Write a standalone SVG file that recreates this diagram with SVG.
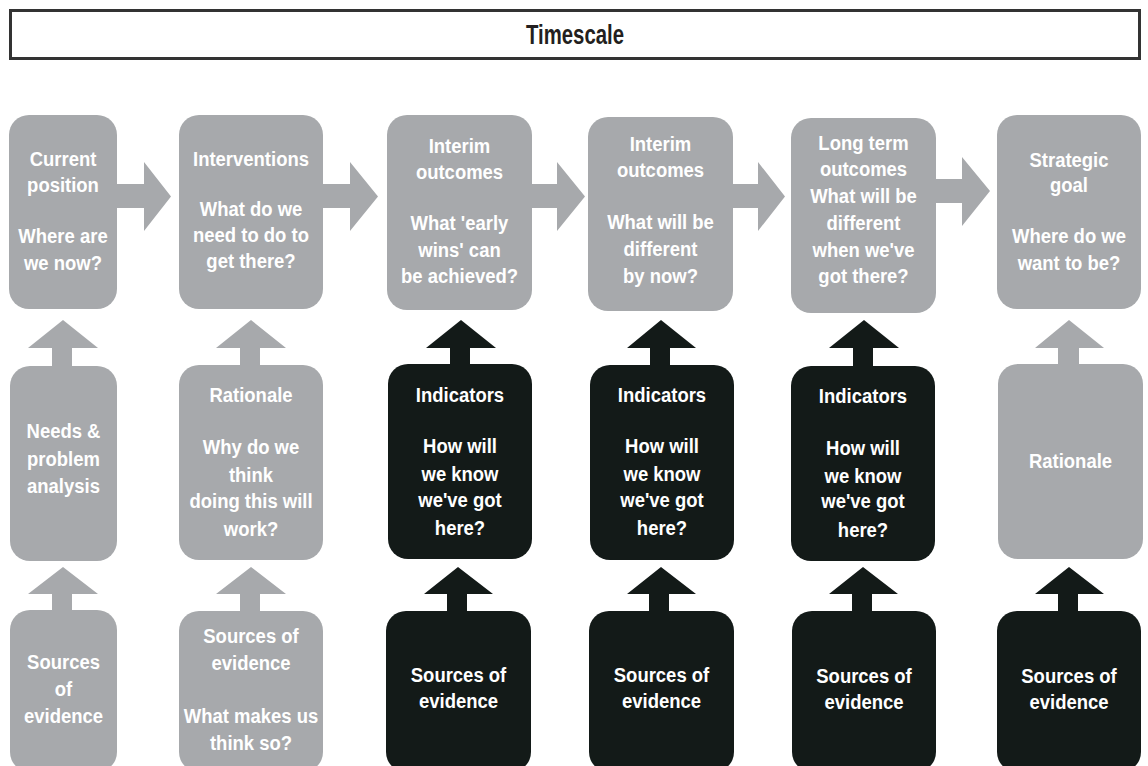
<svg xmlns="http://www.w3.org/2000/svg" width="1148" height="766" viewBox="0 0 1148 766">
<style>
.g{fill:#a7a9ac}
.d{fill:#131a18}
.t{font-family:"Liberation Sans",Arial,sans-serif;font-weight:bold;font-size:21px;fill:#ffffff;text-anchor:middle}
.title{font-family:"Liberation Sans",Arial,sans-serif;font-weight:bold;font-size:27px;fill:#231f20;text-anchor:middle}
</style>
<rect width="1148" height="766" fill="#ffffff"/>
<g id="title">
<rect x="10.5" y="10.5" width="1129" height="48" fill="#ffffff" stroke="#333333" stroke-width="3"/>
<text class="title" x="575" y="44" textLength="98" lengthAdjust="spacingAndGlyphs">Timescale</text>
</g>
<g id="connectors">
<polygon class="g" points="115,184 144,184 144,162 171,196.5 144,231 144,208 115,208"/>
<polygon class="g" points="321,184 350,184 350,162 378,196.5 350,231 350,208 321,208"/>
<polygon class="g" points="530,184 557,184 557,162 585,196.5 557,231 557,208 530,208"/>
<polygon class="g" points="731,184 758,184 758,162 785,196.5 758,231 758,208 731,208"/>
<polygon class="g" points="934,179 962,179 962,157 990,191 962,226 962,203 934,203"/>
<polygon class="g" points="52,370 52,348 28,348 63,320 98,348 72,348 72,370"/>
<polygon class="g" points="240,370 240,348 216,348 251,320 286,348 260,348 260,370"/>
<polygon class="d" points="450,370 450,348 426,348 461,320 496,348 470,348 470,370"/>
<polygon class="d" points="650,370 650,348 627,348 661,320 696,348 670,348 670,370"/>
<polygon class="d" points="853,370 853,348 829,348 864,320 899,348 873,348 873,370"/>
<polygon class="g" points="1058,370 1058,348 1035,348 1069,320 1104,348 1079,348 1079,370"/>
<polygon class="g" points="52,615 52,594 28,594 63,567 98,594 72,594 72,615"/>
<polygon class="g" points="240,615 240,594 216,594 251,567 286,594 260,594 260,615"/>
<polygon class="d" points="447,615 447,594 424,594 458,567 493,594 467,594 467,615"/>
<polygon class="d" points="649,615 649,594 627,594 661,567 696,594 669,594 669,615"/>
<polygon class="d" points="852,615 852,594 829,594 863,567 898,594 872,594 872,615"/>
<polygon class="d" points="1058,615 1058,594 1035,594 1069,567 1104,594 1078,594 1078,615"/>
</g>
<g id="current-position">
<rect class="g" x="9" y="115" width="108" height="194" rx="20"/>
<g transform="translate(63 0) scale(0.88 1)">
<text class="t" x="0" y="166">Current</text>
<text class="t" x="0" y="192">position</text>
<text class="t" x="0" y="243">Where are</text>
<text class="t" x="0" y="270">we now?</text>
</g>
</g>
<g id="interventions">
<rect class="g" x="179" y="115" width="144" height="194" rx="20"/>
<g transform="translate(251 0) scale(0.88 1)">
<text class="t" x="0" y="166">Interventions</text>
<text class="t" x="0" y="216">What do we</text>
<text class="t" x="0" y="242">need to do to</text>
<text class="t" x="0" y="268">get there?</text>
</g>
</g>
<g id="interim-outcomes-1">
<rect class="g" x="387" y="115" width="145" height="195" rx="20"/>
<g transform="translate(459.5 0) scale(0.88 1)">
<text class="t" x="0" y="153">Interim</text>
<text class="t" x="0" y="179">outcomes</text>
<text class="t" x="0" y="230">What 'early</text>
<text class="t" x="0" y="257">wins' can</text>
<text class="t" x="0" y="283">be achieved?</text>
</g>
</g>
<g id="interim-outcomes-2">
<rect class="g" x="588" y="117" width="145" height="194" rx="20"/>
<g transform="translate(660.5 0) scale(0.88 1)">
<text class="t" x="0" y="151">Interim</text>
<text class="t" x="0" y="177">outcomes</text>
<text class="t" x="0" y="229">What will be</text>
<text class="t" x="0" y="256">different</text>
<text class="t" x="0" y="283">by now?</text>
</g>
</g>
<g id="long-term-outcomes">
<rect class="g" x="791" y="118" width="145" height="195" rx="20"/>
<g transform="translate(863.5 0) scale(0.88 1)">
<text class="t" x="0" y="150">Long term</text>
<text class="t" x="0" y="176">outcomes</text>
<text class="t" x="0" y="203">What will be</text>
<text class="t" x="0" y="230">different</text>
<text class="t" x="0" y="257">when we've</text>
<text class="t" x="0" y="283">got there?</text>
</g>
</g>
<g id="strategic-goal">
<rect class="g" x="997" y="115" width="144" height="194" rx="20"/>
<g transform="translate(1069 0) scale(0.88 1)">
<text class="t" x="0" y="167">Strategic</text>
<text class="t" x="0" y="192">goal</text>
<text class="t" x="0" y="243">Where do we</text>
<text class="t" x="0" y="270">want to be?</text>
</g>
</g>
<g id="needs">
<rect class="g" x="10" y="366" width="107" height="195" rx="20"/>
<g transform="translate(63.5 0) scale(0.88 1)">
<text class="t" x="0" y="438">Needs &amp;</text>
<text class="t" x="0" y="466">problem</text>
<text class="t" x="0" y="493">analysis</text>
</g>
</g>
<g id="rationale-1">
<rect class="g" x="179" y="365" width="144" height="195" rx="20"/>
<g transform="translate(251 0) scale(0.88 1)">
<text class="t" x="0" y="402">Rationale</text>
<text class="t" x="0" y="454">Why do we</text>
<text class="t" x="0" y="482">think</text>
<text class="t" x="0" y="508">doing this will</text>
<text class="t" x="0" y="536">work?</text>
</g>
</g>
<g id="indicators-1">
<rect class="d" x="388" y="364" width="144" height="195" rx="20"/>
<g transform="translate(460 0) scale(0.88 1)">
<text class="t" x="0" y="402">Indicators</text>
<text class="t" x="0" y="453">How will</text>
<text class="t" x="0" y="481">we know</text>
<text class="t" x="0" y="507">we've got</text>
<text class="t" x="0" y="535">here?</text>
</g>
</g>
<g id="indicators-2">
<rect class="d" x="590" y="365" width="144" height="195" rx="20"/>
<g transform="translate(662 0) scale(0.88 1)">
<text class="t" x="0" y="402">Indicators</text>
<text class="t" x="0" y="453">How will</text>
<text class="t" x="0" y="481">we know</text>
<text class="t" x="0" y="507">we've got</text>
<text class="t" x="0" y="535">here?</text>
</g>
</g>
<g id="indicators-3">
<rect class="d" x="791" y="366" width="144" height="195" rx="20"/>
<g transform="translate(863 0) scale(0.88 1)">
<text class="t" x="0" y="403">Indicators</text>
<text class="t" x="0" y="455">How will</text>
<text class="t" x="0" y="483">we know</text>
<text class="t" x="0" y="508">we've got</text>
<text class="t" x="0" y="537">here?</text>
</g>
</g>
<g id="rationale-2">
<rect class="g" x="998" y="364" width="145" height="195" rx="20"/>
<g transform="translate(1070.5 0) scale(0.88 1)">
<text class="t" x="0" y="468">Rationale</text>
</g>
</g>
<g id="sources-1">
<rect class="g" x="10" y="610" width="107" height="162" rx="20"/>
<g transform="translate(63.5 0) scale(0.88 1)">
<text class="t" x="0" y="669">Sources</text>
<text class="t" x="0" y="696">of</text>
<text class="t" x="0" y="723">evidence</text>
</g>
</g>
<g id="sources-2">
<rect class="g" x="179" y="611" width="144" height="161" rx="20"/>
<g transform="translate(251 0) scale(0.88 1)">
<text class="t" x="0" y="643">Sources of</text>
<text class="t" x="0" y="670">evidence</text>
<text class="t" x="0" y="723">What makes us</text>
<text class="t" x="0" y="750">think so?</text>
</g>
</g>
<g id="sources-3">
<rect class="d" x="386" y="611" width="145" height="161" rx="20"/>
<g transform="translate(458.5 0) scale(0.88 1)">
<text class="t" x="0" y="682">Sources of</text>
<text class="t" x="0" y="708">evidence</text>
</g>
</g>
<g id="sources-4">
<rect class="d" x="589" y="611" width="145" height="161" rx="20"/>
<g transform="translate(661.5 0) scale(0.88 1)">
<text class="t" x="0" y="682">Sources of</text>
<text class="t" x="0" y="708">evidence</text>
</g>
</g>
<g id="sources-5">
<rect class="d" x="792" y="611" width="144" height="161" rx="20"/>
<g transform="translate(864 0) scale(0.88 1)">
<text class="t" x="0" y="683">Sources of</text>
<text class="t" x="0" y="709">evidence</text>
</g>
</g>
<g id="sources-6">
<rect class="d" x="997" y="611" width="144" height="161" rx="20"/>
<g transform="translate(1069 0) scale(0.88 1)">
<text class="t" x="0" y="683">Sources of</text>
<text class="t" x="0" y="709">evidence</text>
</g>
</g>
</svg>
